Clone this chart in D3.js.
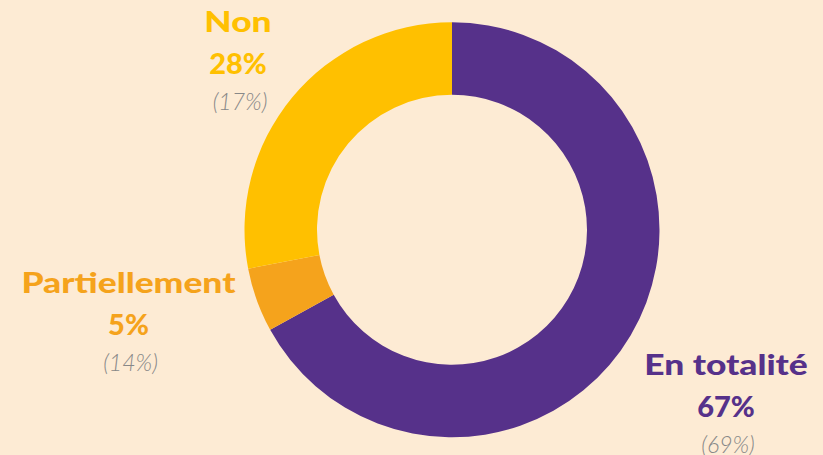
<!DOCTYPE html>
<html>
<head>
<meta charset="utf-8">
<script src="https://cdn.jsdelivr.net/npm/d3@7"></script>
<style>
  html, body { margin: 0; padding: 0; background: #FDEBD4; }
  svg { display: block; }
</style>
</head>
<body>
<svg id="chart" width="823" height="455"></svg>
<script>
// ---- data ----
const categories = ["En totalité", "Partiellement", "Non"];
const values = [67, 5, 28];
const previousValues = [69, 14, 17];

// ---- styling / layout ----
const colors = ["#56318A", "#F5A31C", "#FFC000"];
const W = 823, H = 455;
const cx = 452, cy = 229.8;
const outerR = 207.5, innerR = 135;
// label anchors (x centre, baseline of first line)
const labelPos = [
  { x: 726, y: 375 },
  { x: 128.5, y: 293 },
  { x: 238, y: 32 }
];
const lineGap = 41.7;
const widen = 1.22;

const svg = d3.select("#chart");
svg.append("rect").attr("width", W).attr("height", H).attr("fill", "#FDEBD4");

const pie = d3.pie().sort(null).value(d => d.value);
const arc = d3.arc().innerRadius(innerR).outerRadius(outerR);
const data = categories.map((c, i) => ({ cat: c, value: values[i], prev: previousValues[i], color: colors[i] }));

const g = svg.append("g").attr("transform", `translate(${cx},${cy})`);
g.selectAll("path").data(pie(data)).join("path")
  .attr("d", arc)
  .attr("fill", d => d.data.color);

const labels = svg.append("g").selectAll("g").data(data).join("g")
  .attr("transform", (d, i) => `translate(${labelPos[i].x},${labelPos[i].y})`);

const boldFont = "Lato, 'Open Sans', sans-serif";
labels.append("text")
  .attr("text-anchor", "middle")
  .attr("transform", `scale(${widen},1)`)
  .attr("font-family", boldFont).attr("font-weight", 900).attr("font-size", 29)
  .attr("fill", d => d.color)
  .text(d => d.cat);
labels.append("text")
  .attr("text-anchor", "middle")
  .attr("y", lineGap)
  .attr("font-family", boldFont).attr("font-weight", 900).attr("font-size", 29)
  .attr("fill", d => d.color)
  .text(d => d.value + "%");
labels.append("text")
  .attr("text-anchor", "middle").attr("y", lineGap * 2 - 5).attr("x", 2)
  .attr("font-family", boldFont).attr("font-weight", 300).attr("font-style", "italic").attr("font-size", 23)
  .attr("fill", "#888888")
  .text(d => "(" + d.prev + "%)");
</script>
</body>
</html>
